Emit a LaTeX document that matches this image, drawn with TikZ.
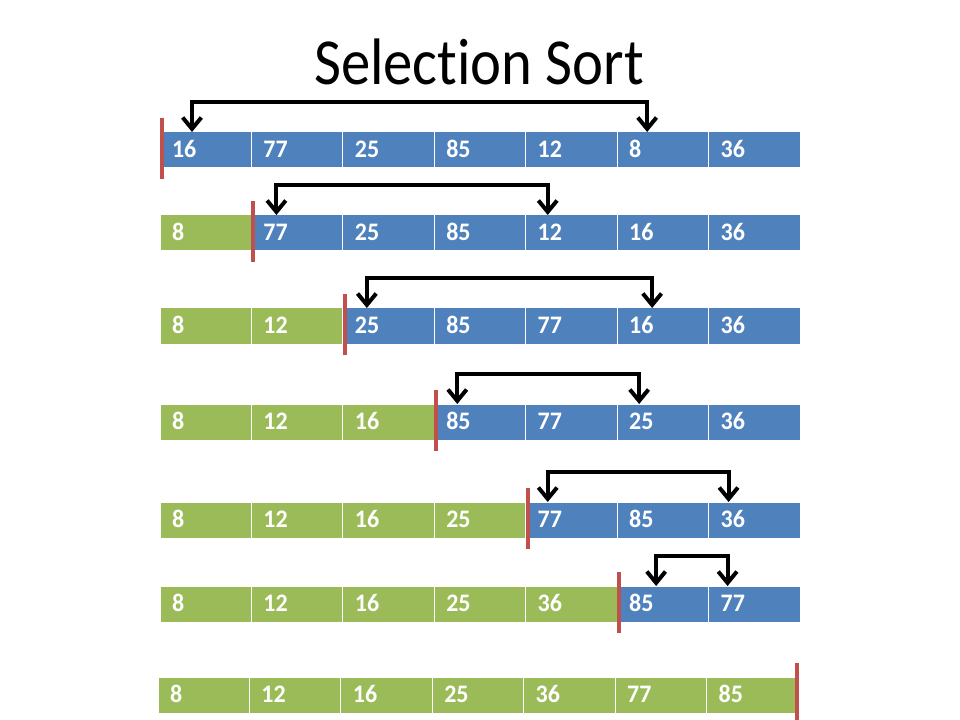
\documentclass[tikz,border=0pt]{standalone}
\usepackage{fontspec}
\setmainfont{Carlito}[Ligatures=NoCommon]
\usetikzlibrary{arrows.meta,positioning,calc}
\definecolor{unsortedblue}{HTML}{4F81BD}
\definecolor{sortedgreen}{HTML}{9BBB59}
\definecolor{markred}{HTML}{C0504D}

\begin{document}
\begin{tikzpicture}[x=0.75pt, y=-0.75pt]
    \tikzset{cell/.style = {rectangle, draw=white, line width=0.75pt,
        fill  = unsortedblue,
        text  = white,
        font  = \fontsize{18}{21}\selectfont\bfseries,
        minimum height=27pt, inner xsep=9pt, inner ysep=0pt, outer sep=0pt,
        text height=12pt, text depth=0.5pt,
        text width=50.57pt, align=left, anchor=north west},
      swaparrow/.style = {line width=3pt,
        {Straight Barb[length=8.5pt,width=14pt]}-{Straight Barb[length=8.5pt,width=14pt]}},
      boundary/.style = {markred, line width=3pt}}
    \useasboundingbox (0,0) rectangle (960,720);
    \node[font=\fontsize{44}{53}\selectfont, anchor=base] (title) at (479,85)
      {\scalebox{1}[1.12]{Selection Sort}};
    % one row of cells for each pass
    \foreach \row/\vals/\done/\top/\xoff in {
        0/{16,77,25,85,12,8,36}/0/132/160,
        1/{8,77,25,85,12,16,36}/1/215/160,
        2/{8,12,25,85,77,16,36}/2/308/160,
        3/{8,12,16,85,77,25,36}/3/404/160,
        4/{8,12,16,25,77,85,36}/4/502/160,
        5/{8,12,16,25,36,85,77}/5/586/160,
        6/{8,12,16,25,36,77,85}/7/677/158}{
      \foreach \v [count=\c from 0] in \vals {
        \ifnum\c<\done \def\cellcol{sortedgreen}\else\def\cellcol{unsortedblue}\fi
        \node[cell, fill=\cellcol] (r\row c\c) at (\xoff+91.43*\c, \top)
          {\scalebox{1}[1.05]{\v}};
      }
    }
    % sorted / unsorted boundary
    \foreach \row in {0,...,5}
      \draw[boundary] ([xshift=1.5pt, yshift=10.5pt]r\row c\row.north west)
        -- ([xshift=1.5pt, yshift=-8.25pt]r\row c\row.south west);
    \draw[boundary] ([xshift=-0.75pt, yshift=10.5pt]r6c6.north east)
      -- ([xshift=-0.75pt, yshift=-8.25pt]r6c6.south east);
    % swaps
    \foreach \row/\a/\da/\b/\db in {0/0/32/5/30, 1/1/25/4/22, 2/2/24/5/35,
        3/3/23/5/22, 4/4/22/6/20, 5/5/39/6/19}
      \draw[swaparrow] ([xshift=\da*0.75pt]r\row c\a.north west) -- ++(0,-30)
        -| ([xshift=\db*0.75pt]r\row c\b.north west);
\end{tikzpicture}
\end{document}
